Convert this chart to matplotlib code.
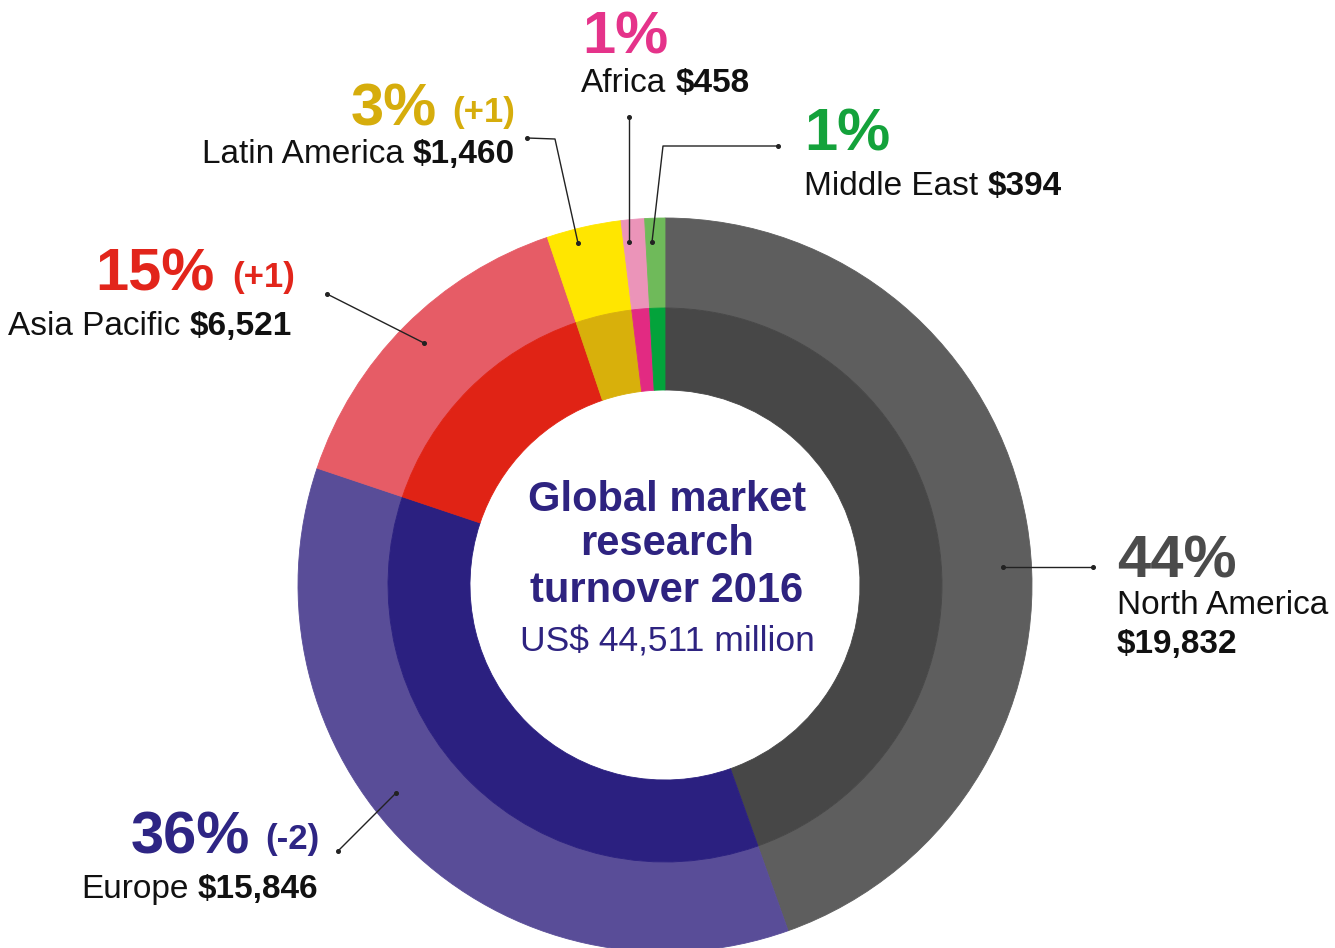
import matplotlib
matplotlib.use("Agg")
import matplotlib.pyplot as plt

# ---------------- data ----------------
regions = ["North America", "Europe", "Asia Pacific", "Latin America", "Africa", "Middle East"]
turnover = [19832, 15846, 6521, 1460, 458, 394]          # US$ million
share_labels = ["44%", "36%", "15%", "3%", "1%", "1%"]
change_labels = ["", "(-2)", "(+1)", "(+1)", "", ""]
value_labels = ["$19,832", "$15,846", "$6,521", "$1,460", "$458", "$394"]
center_title = ["Global market", "research", "turnover 2016"]
center_total = "US$ 44,511 million"

outer_colors = ["#5e5e5e", "#594d98", "#e65c66", "#ffe600", "#eb94b9", "#6fba5a"]
inner_colors = ["#474747", "#2b2080", "#e02315", "#d8b00b", "#e22a82", "#03a33b"]
label_colors = ["#4b4b4b", "#2e2584", "#e2251b", "#d6ad0c", "#e5338a", "#14a23b"]
TEXT_DARK = "#111111"
CENTER_COLOR = "#2e2380"

plt.rcParams["font.family"] = ["Liberation Sans", "DejaVu Sans"]

W, H = 1335, 948
fig = plt.figure(figsize=(W / 100, H / 100), dpi=100)
ax = fig.add_axes([0, 0, 1, 1])


def Y(py):
    return H - py


CX, CY = 665, Y(585)
R_OUT, R_MID, R_HOLE = 367, 277, 195

wo, _ = ax.pie(turnover, radius=R_OUT, center=(CX, CY), startangle=90,
               counterclock=False, colors=outer_colors,
               wedgeprops=dict(width=R_OUT - R_MID))
wi, _ = ax.pie(turnover, radius=R_MID, center=(CX, CY), startangle=90,
               counterclock=False, colors=inner_colors,
               wedgeprops=dict(width=R_MID - R_HOLE))
for w in list(wo) + list(wi):
    w.set_edgecolor(w.get_facecolor())
    w.set_linewidth(0.6)

ax.set_xlim(0, W)
ax.set_ylim(0, H)
ax.axis("off")

# ---------------- center text ----------------
for line, base in zip(center_title, [511, 555, 602]):
    ax.text(667, Y(base), line, ha="center", va="baseline", fontsize=30,
            fontweight="bold", color=CENTER_COLOR)
ax.text(667, Y(652), center_total, ha="center", va="baseline", fontsize=25.5,
        color=CENTER_COLOR)

# ---------------- labels ----------------
PCT_FS = 43
CHG_FS = 25
NAME_FS = 24
GAP = 6.6  # points ~ one space


def leader(pts):
    xs = [p[0] for p in pts]
    ys = [Y(p[1]) for p in pts]
    ax.plot(xs, ys, color="#222222", lw=1.0, solid_capstyle="butt", zorder=5)
    ax.plot([xs[0], xs[-1]], [ys[0], ys[-1]], "o", ms=2.6, color="#222222", zorder=6)


def name_value_left(i, x, base):
    t = ax.text(x, Y(base), regions[i], ha="left", va="baseline",
                fontsize=NAME_FS, color=TEXT_DARK)
    ax.annotate(value_labels[i], xy=(1, 0), xycoords=t, xytext=(GAP, 0),
                textcoords="offset points", ha="left", va="bottom",
                fontsize=NAME_FS, fontweight="bold", color=TEXT_DARK)


def name_value_right(i, x, base):
    v = ax.text(x, Y(base), value_labels[i], ha="right", va="baseline",
                fontsize=NAME_FS, fontweight="bold", color=TEXT_DARK)
    ax.annotate(regions[i], xy=(0, 0), xycoords=v, xytext=(-GAP, 0),
                textcoords="offset points", ha="right", va="bottom",
                fontsize=NAME_FS, color=TEXT_DARK)


# North America (index 0)
ax.text(1117, Y(578), share_labels[0], ha="left", va="baseline", fontsize=PCT_FS,
        fontweight="bold", color=label_colors[0])
ax.text(1117, Y(614), regions[0], ha="left", va="baseline", fontsize=NAME_FS,
        color=TEXT_DARK)
ax.text(1117, Y(653), value_labels[0], ha="left", va="baseline", fontsize=NAME_FS,
        fontweight="bold", color=TEXT_DARK)
leader([(1003, 567), (1093, 567)])

# Europe (index 1)
ax.text(250, Y(853), share_labels[1], ha="right", va="baseline", fontsize=PCT_FS,
        fontweight="bold", color=label_colors[1])
ax.text(265, Y(849), change_labels[1], ha="left", va="baseline", fontsize=CHG_FS,
        fontweight="bold", color=label_colors[1])
name_value_right(1, 318, 898)
leader([(396, 793), (338, 851)])

# Asia Pacific (index 2)
ax.text(215, Y(290), share_labels[2], ha="right", va="baseline", fontsize=PCT_FS,
        fontweight="bold", color=label_colors[2])
ax.text(232, Y(287), change_labels[2], ha="left", va="baseline", fontsize=CHG_FS,
        fontweight="bold", color=label_colors[2])
name_value_right(2, 292, 335)
leader([(424, 343), (327, 294)])

# Latin America (index 3)
ax.text(437, Y(125), share_labels[3], ha="right", va="baseline", fontsize=PCT_FS,
        fontweight="bold", color=label_colors[3])
ax.text(452, Y(122), change_labels[3], ha="left", va="baseline", fontsize=CHG_FS,
        fontweight="bold", color=label_colors[3])
name_value_right(3, 515, 163)
leader([(578, 243), (555, 139), (527, 138)])

# Africa (index 4)
ax.text(582, Y(53), share_labels[4], ha="left", va="baseline", fontsize=PCT_FS,
        fontweight="bold", color=label_colors[4])
name_value_left(4, 581, 92)
leader([(629, 242), (629, 117)])

# Middle East (index 5)
ax.text(804, Y(150), share_labels[5], ha="left", va="baseline", fontsize=PCT_FS,
        fontweight="bold", color=label_colors[5])
name_value_left(5, 804, 195)
leader([(652, 242), (663, 146), (778, 146)])

fig.savefig("out.png", dpi=100, facecolor="white")
